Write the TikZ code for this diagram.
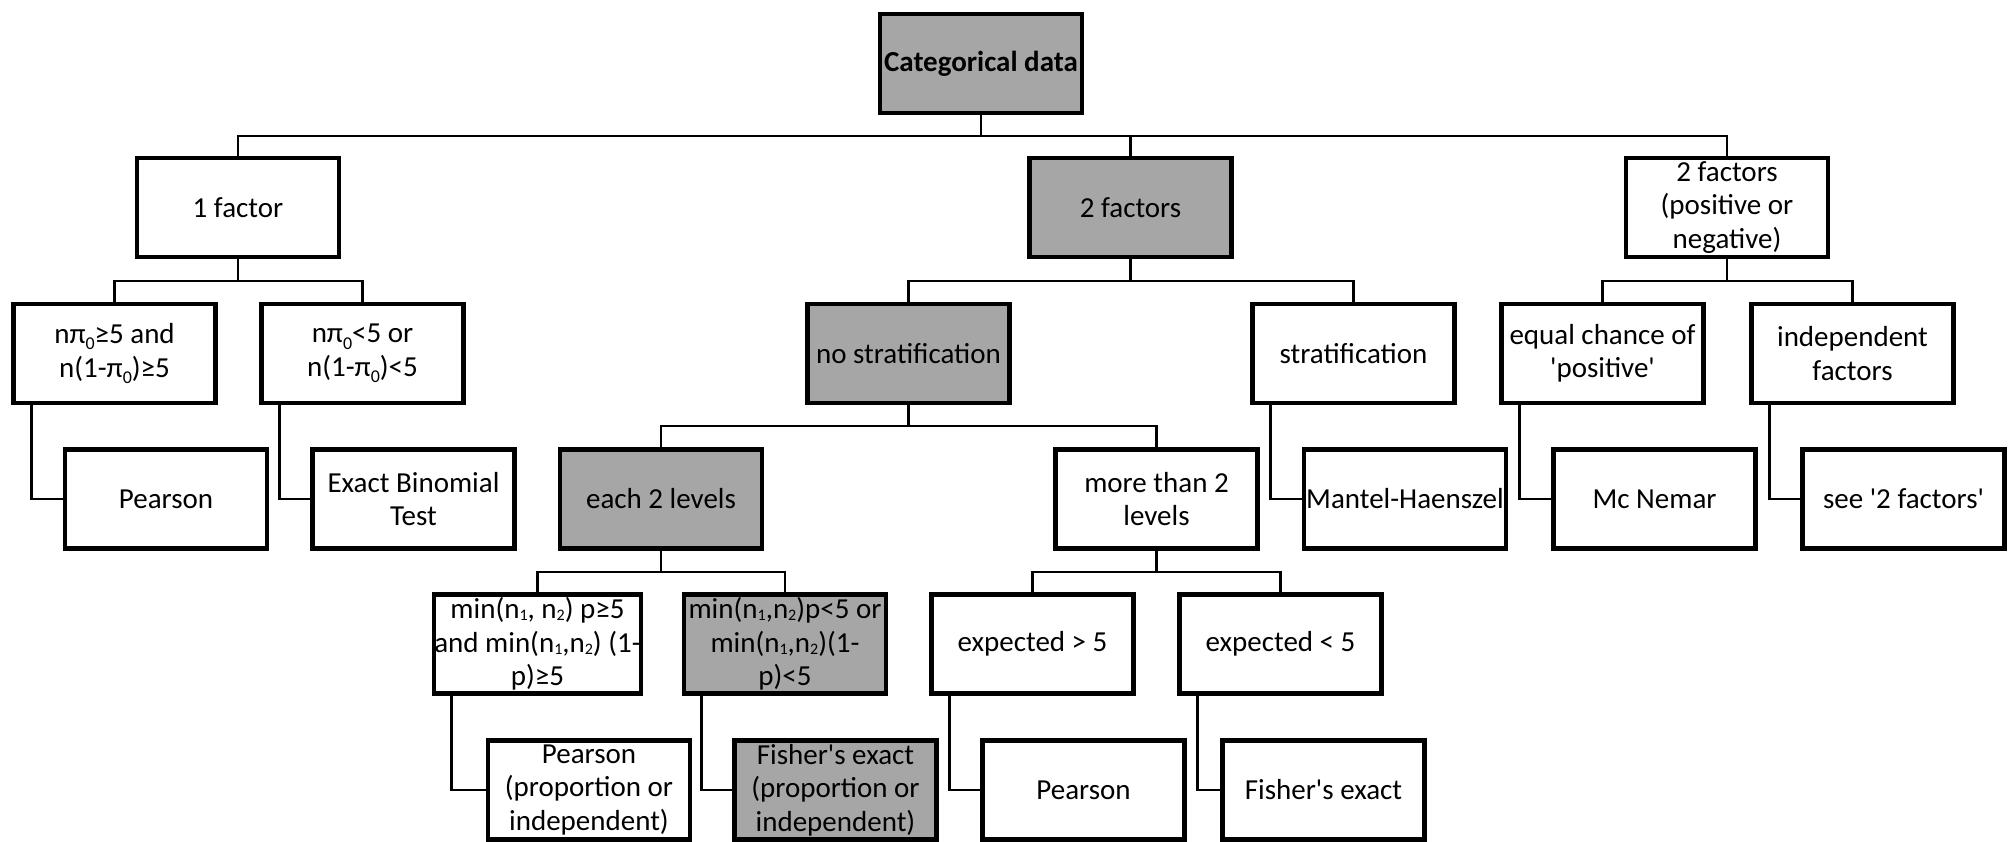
\documentclass[tikz,border=0pt]{standalone}
\usepackage{fontspec}
\setmainfont{Carlito}[Ligatures=TeXOff]
\usetikzlibrary{calc}
\definecolor{boxgray}{HTML}{A6A6A6}
\newcommand\pz{\raisebox{-0.22em}{\fontsize{18}{18}\selectfont 0}}
\newcommand\sbn[1]{\raisebox{-0.06em}{\fontsize{16}{16}\selectfont #1}}
\begin{document}
\begin{tikzpicture}[x=1pt,y=-1pt,
  box/.style={draw=black, line width=4.5pt, fill=white, minimum width=202pt, minimum height=99pt,
    inner sep=0.5pt, align=center, font=\fontsize{29}{33.5}\selectfont},
  gbox/.style={box, fill=boxgray},
  conn/.style={line width=2.6pt}]
\useasboundingbox (0,0) rectangle (2009,841);
% bar levels
\coordinate (y0) at (0,136);
\coordinate (y1) at (0,281);
\coordinate (y2) at (0,426);
\coordinate (y3) at (0,572);
% box centres
\coordinate (p-cat) at (981,63.5);
\coordinate (p-f1) at (238,207.5);
\coordinate (p-f2) at (1130.5,207.5);
\coordinate (p-pn) at (1727,207.5);
\coordinate (p-a1) at (114.5,353.5);
\coordinate (p-a2) at (362.5,353.5);
\coordinate (p-ns) at (908.5,353.5);
\coordinate (p-st) at (1353.5,353.5);
\coordinate (p-eq) at (1602.5,353.5);
\coordinate (p-ind) at (1852.5,353.5);
\coordinate (p-e2) at (661,499);
\coordinate (p-m2) at (1156.5,499);
\coordinate (p-c1) at (537.5,644);
\coordinate (p-c2) at (785,644);
\coordinate (p-x1) at (1032.5,644);
\coordinate (p-x2) at (1280.5,644);

\node[gbox, font=\fontsize{29}{33.5}\selectfont\bfseries] (cat) at (p-cat) {Categorical data};
\node[box] (f1) at (p-f1) {1 factor};
\node[gbox] (f2) at (p-f2) {2 factors};
\node[box] (pn) at (p-pn) {2 factors\\(positive or\\negative)};

\node[box] (a1) at (p-a1) {nπ\pz≥5 and\\n(1-π\pz)≥5};
\node[box] (a2) at (p-a2) {nπ\pz<5 or\\n(1-π\pz)<5};
\node[gbox] (ns) at (p-ns) {no stratification};
\node[box] (st) at (p-st) {stratification};
\node[box] (eq) at (p-eq) {equal chance of\\'positive'};
\node[box] (ind) at (p-ind) {independent\\factors};

\node[box] (pear1) at (166,499) {Pearson};
\node[box] (binom) at (413.5,499) {Exact Binomial\\Test};
\node[gbox] (e2) at (p-e2) {each 2 levels};
\node[box] (m2) at (p-m2) {more than 2\\levels};
\node[box] (mh) at (1405,499) {Mantel-Haenszel};
\node[box] (mcn) at (1654.5,499) {Mc Nemar};
\node[box] (see) at (1903.5,499) {see '2 factors'};

\node[box] (c1) at (p-c1) {min(n\sbn{1}, n\sbn{2}) p≥5\\and min(n\sbn{1},n\sbn{2}) (1-\\p)≥5};
\node[gbox] (c2) at (p-c2) {min(n\sbn{1},n\sbn{2})p<5 or\\min(n\sbn{1},n\sbn{2})(1-\\p)<5};
\node[box] (x1) at (p-x1) {expected > 5};
\node[box] (x2) at (p-x2) {expected < 5};

\node[box] (p2) at (589,790) {Pearson\\(proportion or\\independent)};
\node[gbox] (f3) at (835.5,790) {Fisher's exact\\(proportion or\\independent)};
\node[box] (p3) at (1083.5,790) {Pearson};
\node[box] (f4) at (1323.5,790) {Fisher's exact};

% tree connectors
\draw[conn] (cat.south) -- (cat.south |- y0);
\draw[conn] (f1.north) |- (pn.north |- y0) -- (pn.north);
\draw[conn] (f2.north) -- (f2.north |- y0);

\draw[conn] (f1.south) -- (f1.south |- y1);
\draw[conn] (a1.north) |- (a2.north |- y1) -- (a2.north);
\draw[conn] (f2.south) -- (f2.south |- y1);
\draw[conn] (ns.north) |- (st.north |- y1) -- (st.north);
\draw[conn] (pn.south) -- (pn.south |- y1);
\draw[conn] (eq.north) |- (ind.north |- y1) -- (ind.north);

\draw[conn] (ns.south) -- (ns.south |- y2);
\draw[conn] (e2.north) |- (m2.north |- y2) -- (m2.north);

\draw[conn] (e2.south) -- (e2.south |- y3);
\draw[conn] (c1.north) |- (c2.north |- y3) -- (c2.north);
\draw[conn] (m2.south) -- (m2.south |- y3);
\draw[conn] (x1.north) |- (x2.north |- y3) -- (x2.north);

% side connectors
\draw[conn] ($(a1.south west)+(20,0)$) |- (pear1.west);
\draw[conn] ($(a2.south west)+(20,0)$) |- (binom.west);
\draw[conn] ($(st.south west)+(20,0)$) |- (mh.west);
\draw[conn] ($(eq.south west)+(20,0)$) |- (mcn.west);
\draw[conn] ($(ind.south west)+(20,0)$) |- (see.west);
\draw[conn] ($(c1.south west)+(20,0)$) |- (p2.west);
\draw[conn] ($(c2.south west)+(20,0)$) |- (f3.west);
\draw[conn] ($(x1.south west)+(20,0)$) |- (p3.west);
\draw[conn] ($(x2.south west)+(20,0)$) |- (f4.west);
\end{tikzpicture}
\end{document}
